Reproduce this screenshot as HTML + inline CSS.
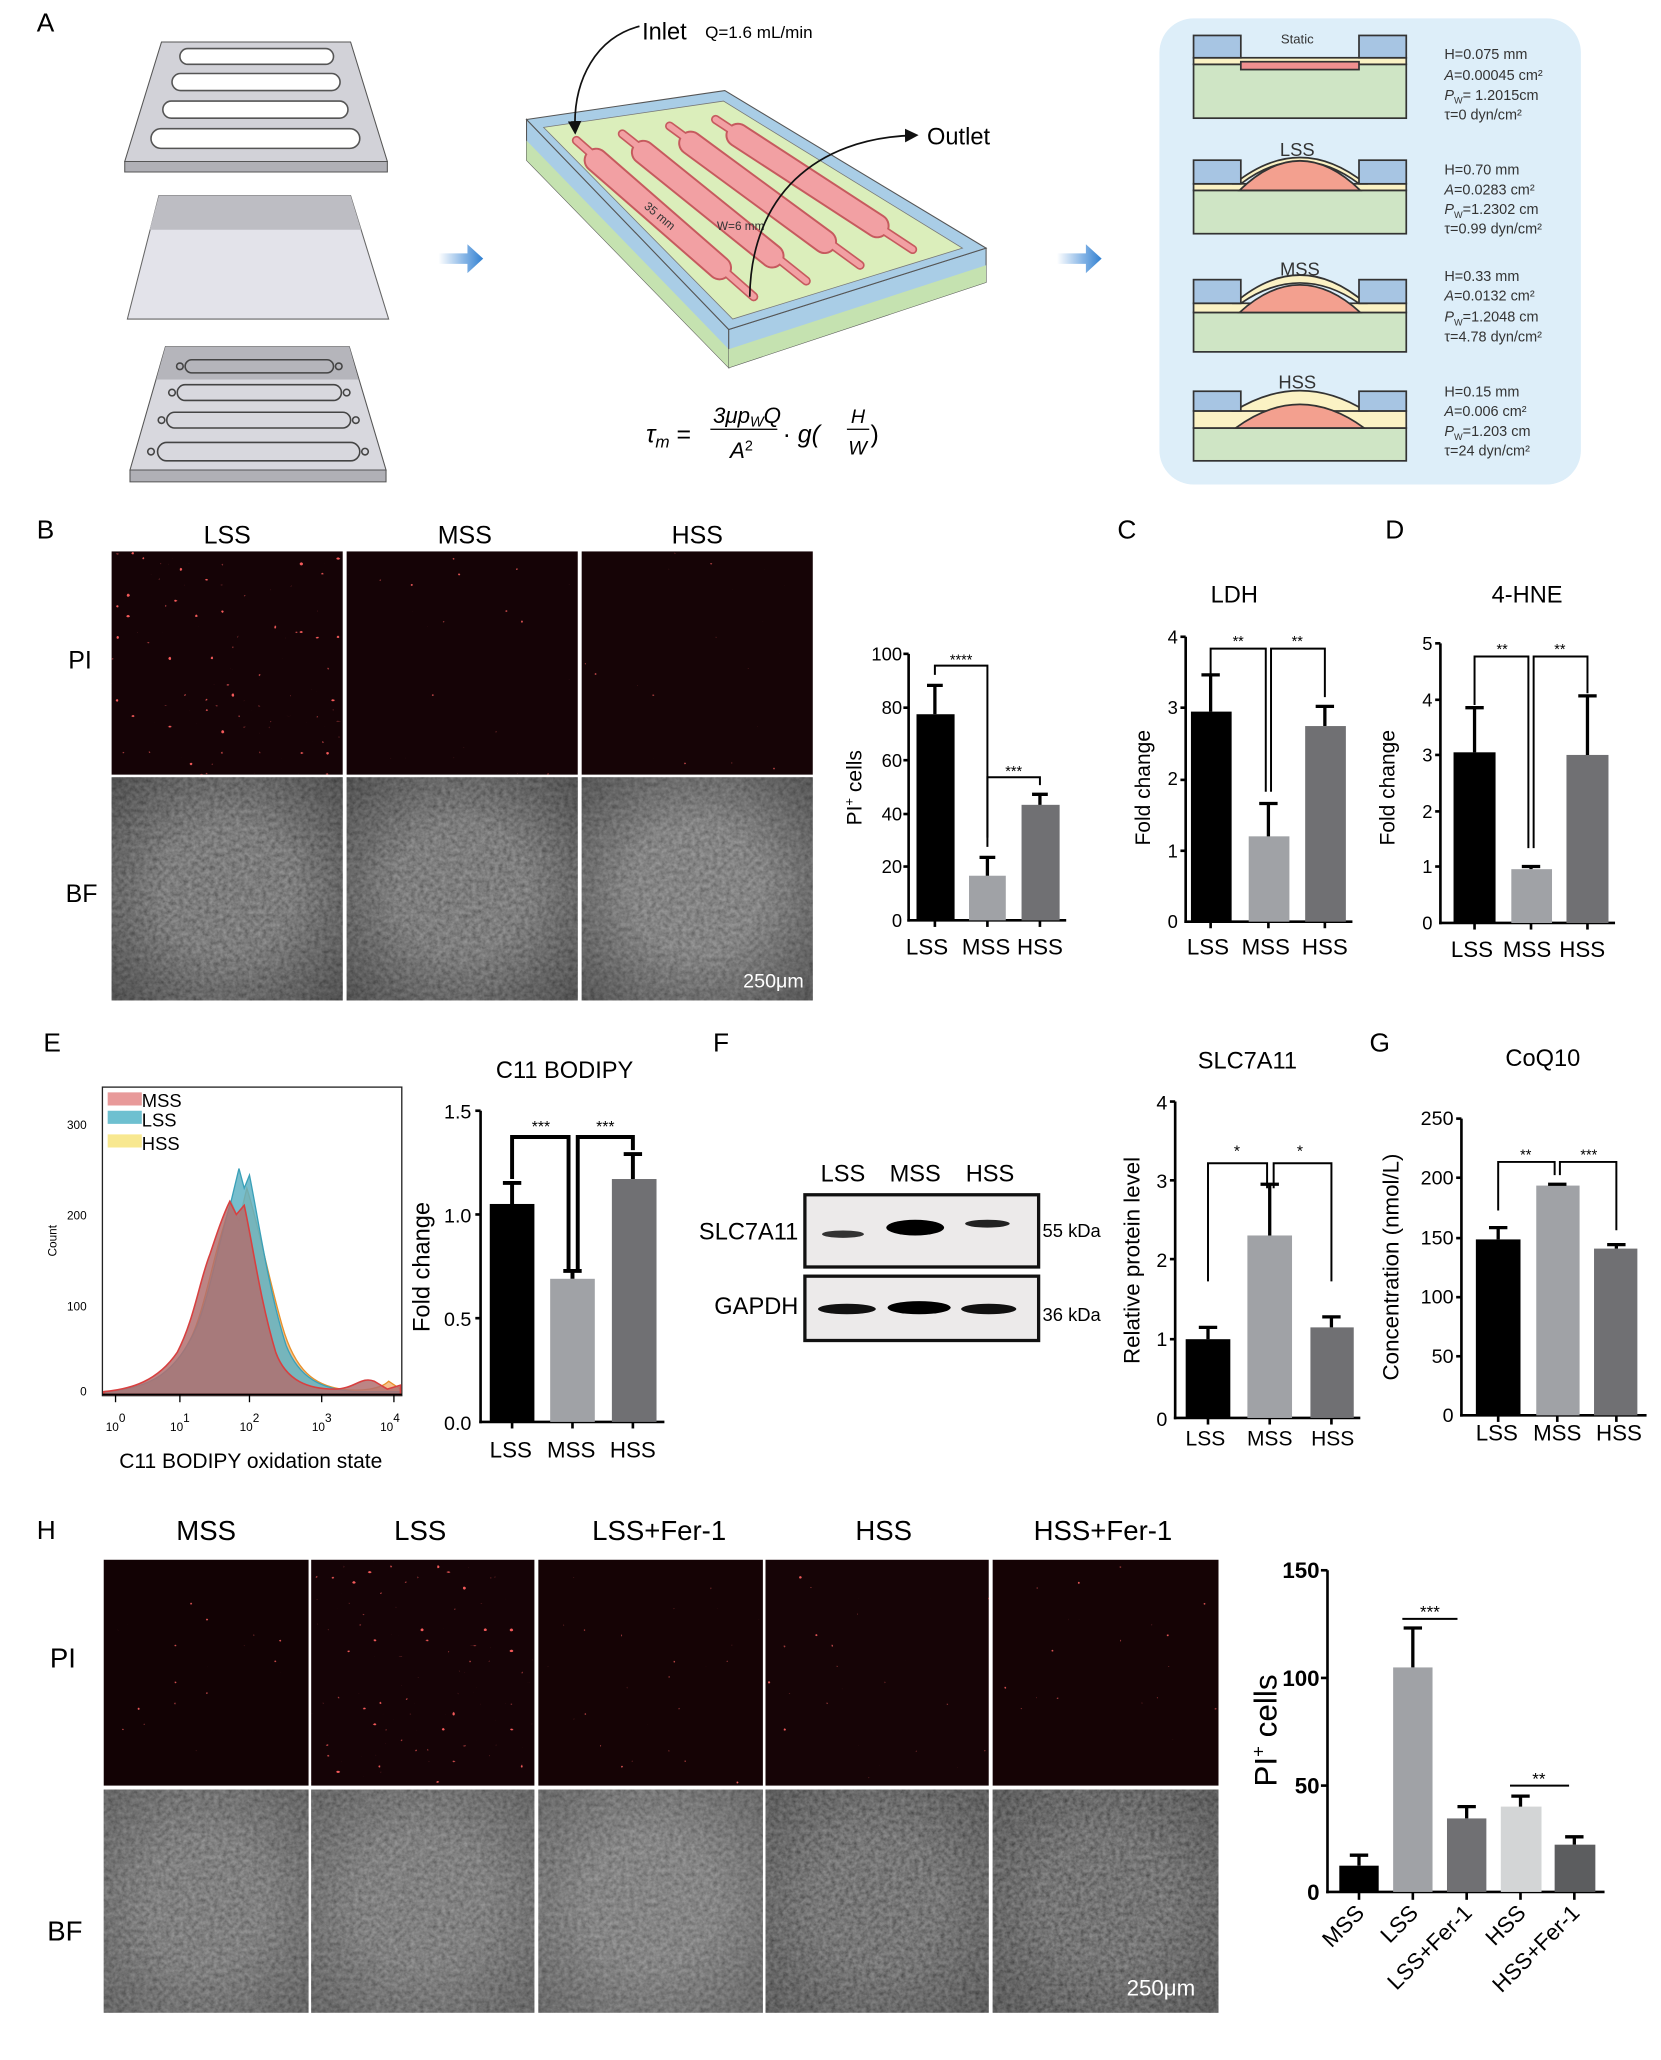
<!DOCTYPE html>
<html><head><meta charset="utf-8"><style>
html,body{margin:0;padding:0;background:#fff;}
svg{display:block;}
text{font-family:"Liberation Sans",Arial,sans-serif;}
</style></head><body>
<svg width="1661" height="2060" viewBox="0 0 1265 1569" preserveAspectRatio="none" xmlns="http://www.w3.org/2000/svg">
<defs>
<filter id="piS" x="0" y="0" width="1" height="1"><feTurbulence type="fractalNoise" baseFrequency="0.25" numOctaves="1" seed="3"/><feColorMatrix values="0 0 0 0 0.85  0 0 0 0 0.1  0 0 0 0 0.1  22 0 0 0 -17.4"/><feComposite in2="SourceGraphic" operator="in"/></filter>
<filter id="piM" x="0" y="0" width="1" height="1"><feTurbulence type="fractalNoise" baseFrequency="0.25" numOctaves="1" seed="7"/><feColorMatrix values="0 0 0 0 0.85  0 0 0 0 0.1  0 0 0 0 0.1  22 0 0 0 -16.9"/><feComposite in2="SourceGraphic" operator="in"/></filter>
<filter id="piD" x="0" y="0" width="1" height="1"><feTurbulence type="fractalNoise" baseFrequency="0.25" numOctaves="1" seed="11"/><feColorMatrix values="0 0 0 0 0.9  0 0 0 0 0.1  0 0 0 0 0.1  22 0 0 0 -16.4"/><feComposite in2="SourceGraphic" operator="in"/></filter>
<filter id="bf" x="0" y="0" width="1" height="1"><feTurbulence type="fractalNoise" baseFrequency="0.3" numOctaves="3" seed="5"/><feColorMatrix values="0.5 0 0 0 0  0.5 0 0 0 0  0.5 0 0 0 0  0 0 0 0 0.5"/><feComposite in2="SourceGraphic" operator="in" result="n"/><feMerge><feMergeNode in="SourceGraphic"/><feMergeNode in="n"/></feMerge></filter>
<radialGradient id="vig" cx="0.5" cy="0.5" r="0.7"><stop offset="0.4" stop-color="#000" stop-opacity="0"/><stop offset="1" stop-color="#000" stop-opacity="0.35"/></radialGradient>
<linearGradient id="arr" x1="0" x2="1"><stop offset="0" stop-color="#4a90d9" stop-opacity="0"/><stop offset="0.6" stop-color="#4a90d9" stop-opacity="0.7"/><stop offset="1" stop-color="#2f7fd0"/></linearGradient>
<marker id="ah" markerWidth="8" markerHeight="8" refX="6" refY="4" orient="auto"><path d="M0,0 L8,4 L0,8 Z" fill="#111"/></marker>
</defs>

<!-- Panel A -->
<text x="28" y="24" font-size="20">A</text>
<polygon points="95,123 295,123 295,131 95,131" fill="#b0b0b6" stroke="#555" stroke-width="0.8"/>
<polygon points="123,32 267,32 295,123 95,123" fill="#d2d2d8" stroke="#555" stroke-width="0.8"/>
<rect x="137" y="37" width="117" height="12" rx="6" fill="#fff" stroke="#555" stroke-width="1.2"/>
<rect x="131" y="56" width="128" height="13" rx="6.5" fill="#fff" stroke="#555" stroke-width="1.2"/>
<rect x="124" y="77" width="141" height="13" rx="6.5" fill="#fff" stroke="#555" stroke-width="1.2"/>
<rect x="115" y="98" width="159" height="15" rx="7.5" fill="#fff" stroke="#555" stroke-width="1.2"/>
<polygon points="121,149 267,149 296,243 97,243" fill="#e3e3ea" stroke="#666" stroke-width="0.8"/>
<polygon points="121,149 267,149 275,175 114,175" fill="#bdbdc3"/>
<polygon points="99,358 294,358 294,367 99,367" fill="#b0b0b6" stroke="#555" stroke-width="0.8"/>
<polygon points="126,264 266,264 294,358 99,358" fill="#d8d8de" stroke="#555" stroke-width="0.8"/>
<polygon points="126,264 266,264 273,289 119,289" fill="#b5b5bb"/>
<g fill="none" stroke="#444" stroke-width="1.2">
<rect x="141" y="274" width="113" height="10" rx="5"/><circle cx="137" cy="279" r="2.5"/><circle cx="258" cy="279" r="2.5"/>
<rect x="135" y="293" width="125" height="12" rx="6"/><circle cx="131" cy="299" r="2.5"/><circle cx="264" cy="299" r="2.5"/>
<rect x="127" y="314" width="140" height="12" rx="6"/><circle cx="123" cy="320" r="2.5"/><circle cx="271" cy="320" r="2.5"/>
<rect x="120" y="337" width="154" height="14" rx="7"/><circle cx="115" cy="344" r="2.5"/><circle cx="278" cy="344" r="2.5"/>
</g>
<polygon points="334,193 356,193 356,186 368,197 356,208 356,201 334,201" fill="url(#arr)"/>
<polygon points="805,193 827,193 827,186 839,197 827,208 827,201 805,201" fill="url(#arr)"/>
<!-- chip -->
<polygon points="401,91 555,251 555,280 401,122" fill="#a9cde6" stroke="#555" stroke-width="0.8"/>
<polygon points="401,107 555,266 555,280 401,122" fill="#c5e2b0"/>
<polygon points="555,251 751,189 751,215 555,280" fill="#a9cde6" stroke="#555" stroke-width="0.8"/>
<polygon points="555,266 751,202 751,215 555,280" fill="#c5e2b0"/>
<polygon points="401,91 552,69 751,189 555,251" fill="#a9cde6" stroke="#555" stroke-width="0.8"/>
<polygon points="414,97 551,77 733,189 558,243" fill="#dbeebb" stroke="#777" stroke-width="0.6"/>
<g stroke-linecap="round">
<g stroke="#c65a5e"><line x1="439" y1="107" x2="574" y2="226" stroke-width="7"/><line x1="474" y1="102" x2="614" y2="214" stroke-width="7"/><line x1="510" y1="96" x2="655" y2="202" stroke-width="7"/><line x1="545" y1="91" x2="695" y2="190" stroke-width="7"/></g>
<g stroke="#c65a5e" stroke-width="19"><line x1="454" y1="122" x2="548" y2="204"/><line x1="490" y1="116" x2="588" y2="195"/><line x1="526" y1="109" x2="628" y2="184"/><line x1="562" y1="103" x2="668" y2="172"/></g>
<g stroke="#f2a0a3" stroke-width="16"><line x1="454" y1="122" x2="548" y2="204"/><line x1="490" y1="116" x2="588" y2="195"/><line x1="526" y1="109" x2="628" y2="184"/><line x1="562" y1="103" x2="668" y2="172"/></g>
<g stroke="#f2a0a3" stroke-width="4.5"><line x1="439" y1="107" x2="574" y2="226"/><line x1="474" y1="102" x2="614" y2="214"/><line x1="510" y1="96" x2="655" y2="202"/><line x1="545" y1="91" x2="695" y2="190"/></g>
</g>
<text x="490" y="158" font-size="9" fill="#333" transform="rotate(40 490 158)">35 mm</text>
<text x="546" y="175" font-size="9" fill="#333">W=6 mm</text>
<path d="M487,20 C455,28 436,60 438,100" fill="none" stroke="#111" stroke-width="1.3" marker-end="url(#ah)"/>
<text x="489" y="30" font-size="18">Inlet</text>
<text x="537" y="29" font-size="13">Q=1.6 mL/min</text>
<path d="M571,226 C572,150 620,105 697,103" fill="none" stroke="#111" stroke-width="1.3" marker-end="url(#ah)"/>
<text x="706" y="110" font-size="18">Outlet</text>
<g font-family="Liberation Serif,serif" font-style="italic">
<text x="492" y="337" font-size="19">τ<tspan font-size="13" dy="4">m</tspan><tspan dy="-4" font-style="normal"> =</tspan></text>
<text x="543" y="322" font-size="17">3μp<tspan font-size="11" dy="3">W</tspan><tspan dy="-3">Q</tspan></text>
<line x1="541" y1="327" x2="592" y2="327" stroke="#111" stroke-width="1"/>
<text x="556" y="349" font-size="17">A<tspan font-size="11" dy="-6" font-style="normal">2</tspan></text>
<text x="596" y="337" font-size="19"><tspan font-style="normal">·</tspan> g(</text>
<text x="648" y="322" font-size="15">H</text>
<line x1="645" y1="327" x2="662" y2="327" stroke="#111" stroke-width="1"/>
<text x="646" y="346" font-size="15">W</text>
<text x="663" y="337" font-size="19" font-style="normal">)</text>
</g>
<!-- cross section panel -->
<rect x="883" y="14" width="321" height="355" rx="26" fill="#ddeef9"/>
<g stroke="#333" stroke-width="1.3">
<rect x="909" y="49" width="162" height="41" fill="#cfe5c5"/>
<rect x="909" y="44" width="162" height="5" fill="#fbf2c4"/>
<rect x="945" y="47" width="90" height="6" fill="#f09090"/>
<rect x="909" y="27" width="36" height="17" fill="#a7c5e3"/>
<rect x="1035" y="27" width="36" height="17" fill="#a7c5e3"/>
<rect x="909" y="145" width="162" height="33" fill="#cfe5c5"/>
<rect x="909" y="140" width="162" height="5" fill="#fbf2c4"/>
<path d="M940,140 Q990,100 1040,140 L1035,140 Q990,106 945,140 Z" fill="#fbf2c4"/>
<path d="M944,145 Q990,100 1036,145 Z" fill="#f3a08f"/>
<rect x="909" y="122" width="36" height="18" fill="#a7c5e3"/>
<rect x="1035" y="122" width="36" height="18" fill="#a7c5e3"/>
<rect x="909" y="238" width="162" height="30" fill="#cfe5c5"/>
<rect x="909" y="231" width="162" height="7" fill="#fbf2c4"/>
<path d="M940,231 Q990,188 1040,231 L1035,231 Q990,200 945,231 Z" fill="#fbf2c4"/>
<path d="M944,238 Q990,196 1036,238 Z" fill="#f3a08f"/>
<rect x="909" y="213" width="36" height="18" fill="#a7c5e3"/>
<rect x="1035" y="213" width="36" height="18" fill="#a7c5e3"/>
<rect x="909" y="326" width="162" height="25" fill="#cfe5c5"/>
<rect x="909" y="313" width="162" height="13" fill="#fbf2c4"/>
<path d="M940,313 Q990,282 1040,313 Z" fill="#fbf2c4"/>
<path d="M941,326 Q990,290 1039,326 Z" fill="#f3a08f"/>
<rect x="909" y="298" width="36" height="15" fill="#a7c5e3"/>
<rect x="1035" y="298" width="36" height="15" fill="#a7c5e3"/>
</g>
<g font-size="10" text-anchor="middle" fill="#333"><text x="988" y="33">Static</text></g>
<g font-size="14" text-anchor="middle" fill="#333"><text x="988" y="119">LSS</text><text x="990" y="210">MSS</text><text x="988" y="296">HSS</text></g>
<g font-size="11" fill="#333">
<text x="1100" y="45">H=0.075 mm</text><text x="1100" y="61"><tspan font-style="italic">A</tspan>=0.00045 cm²</text><text x="1100" y="76"><tspan font-style="italic">P</tspan><tspan font-size="7" dy="3">W</tspan><tspan dy="-3">= 1.2015cm</tspan></text><text x="1100" y="91">τ=0 dyn/cm²</text>
<text x="1100" y="133">H=0.70 mm</text><text x="1100" y="148"><tspan font-style="italic">A</tspan>=0.0283 cm²</text><text x="1100" y="163"><tspan font-style="italic">P</tspan><tspan font-size="7" dy="3">W</tspan><tspan dy="-3">=1.2302 cm</tspan></text><text x="1100" y="178">τ=0.99 dyn/cm²</text>
<text x="1100" y="214">H=0.33 mm</text><text x="1100" y="229"><tspan font-style="italic">A</tspan>=0.0132 cm²</text><text x="1100" y="245"><tspan font-style="italic">P</tspan><tspan font-size="7" dy="3">W</tspan><tspan dy="-3">=1.2048 cm</tspan></text><text x="1100" y="260">τ=4.78 dyn/cm²</text>
<text x="1100" y="302">H=0.15 mm</text><text x="1100" y="317"><tspan font-style="italic">A</tspan>=0.006 cm²</text><text x="1100" y="332"><tspan font-style="italic">P</tspan><tspan font-size="7" dy="3">W</tspan><tspan dy="-3">=1.203 cm</tspan></text><text x="1100" y="347">τ=24 dyn/cm²</text>
</g>

<!-- Panel B images -->
<text x="28" y="410" font-size="20">B</text>
<g font-size="19" text-anchor="middle"><text x="173" y="414">LSS</text><text x="354" y="414">MSS</text><text x="531" y="414">HSS</text></g>
<text x="52" y="509" font-size="19">PI</text><text x="50" y="687" font-size="19">BF</text>
<g>
<rect x="85" y="420" width="176" height="170" fill="#150306"/><rect x="85" y="420" width="176" height="170" filter="url(#piD)"/>
<rect x="264" y="420" width="176" height="170" fill="#150306"/><rect x="264" y="420" width="176" height="170" filter="url(#piS)"/>
<rect x="443" y="420" width="176" height="170" fill="#160406"/><rect x="443" y="420" width="176" height="170" filter="url(#piS)"/>
<rect x="85" y="592" width="176" height="170" fill="#6e6e6e" filter="url(#bf)"/><rect x="85" y="592" width="176" height="170" fill="url(#vig)"/>
<rect x="264" y="592" width="176" height="170" fill="#727272" filter="url(#bf)"/><rect x="264" y="592" width="176" height="170" fill="url(#vig)"/>
<rect x="443" y="592" width="176" height="170" fill="#808080" filter="url(#bf)"/><rect x="443" y="592" width="176" height="170" fill="url(#vig)"/>
</g>
<text x="566" y="752" font-size="15" fill="#fff">250μm</text>

<!-- Chart B -->
<g font-size="14" text-anchor="end"><text x="687" y="503">100</text><text x="687" y="544">80</text><text x="687" y="584">60</text><text x="687" y="625">40</text><text x="687" y="665">20</text><text x="687" y="706">0</text></g>
<g stroke="#000" stroke-width="2"><line x1="692" y1="498" x2="692" y2="702"/><line x1="691" y1="701" x2="812" y2="701"/>
<line x1="688" y1="498" x2="692" y2="498"/><line x1="688" y1="539" x2="692" y2="539"/><line x1="688" y1="579" x2="692" y2="579"/><line x1="688" y1="620" x2="692" y2="620"/><line x1="688" y1="660" x2="692" y2="660"/>
<line x1="712" y1="701" x2="712" y2="706"/><line x1="752" y1="701" x2="752" y2="706"/><line x1="792" y1="701" x2="792" y2="706"/></g>
<rect x="698" y="544" width="29" height="157" fill="#000"/><rect x="738" y="667" width="28" height="34" fill="#a0a2a6"/><rect x="778" y="613" width="29" height="88" fill="#707073"/>
<g stroke="#000" stroke-width="2.5" fill="none"><path d="M712,544 V522 M706,522 H718"/><path d="M752,667 V653 M746,653 H758"/><path d="M792,613 V605 M786,605 H798"/></g>
<g stroke="#000" stroke-width="1.5" fill="none"><path d="M712,514 V507 H752 V638"/><path d="M752,645 V592 H792 V598"/></g>
<g font-size="11" text-anchor="middle"><text x="732" y="506">****</text><text x="772" y="591">***</text></g>
<text transform="translate(656 600) rotate(-90)" font-size="16" text-anchor="middle">PI<tspan font-size="10" dy="-6">+</tspan><tspan dy="6"> cells</tspan></text>
<g font-size="17" text-anchor="middle"><text x="706" y="727">LSS</text><text x="751" y="727">MSS</text><text x="792" y="727">HSS</text></g>

<!-- Chart C -->
<text x="851" y="410" font-size="20">C</text>
<text x="940" y="459" font-size="18" text-anchor="middle">LDH</text>
<g font-size="14" text-anchor="end"><text x="897" y="490">4</text><text x="897" y="544">3</text><text x="897" y="598">2</text><text x="897" y="653">1</text><text x="897" y="707">0</text></g>
<g stroke="#000" stroke-width="2"><line x1="903" y1="485" x2="903" y2="703"/><line x1="902" y1="702" x2="1030" y2="702"/>
<line x1="899" y1="485" x2="903" y2="485"/><line x1="899" y1="539" x2="903" y2="539"/><line x1="899" y1="594" x2="903" y2="594"/><line x1="899" y1="648" x2="903" y2="648"/>
<line x1="922" y1="702" x2="922" y2="707"/><line x1="966" y1="702" x2="966" y2="707"/><line x1="1009" y1="702" x2="1009" y2="707"/></g>
<rect x="907" y="542" width="31" height="160" fill="#000"/><rect x="951" y="637" width="31" height="65" fill="#a0a2a6"/><rect x="994" y="553" width="31" height="149" fill="#707073"/>
<g stroke="#000" stroke-width="2.5" fill="none"><path d="M922,542 V514 M915,514 H929"/><path d="M966,637 V612 M959,612 H973"/><path d="M1009,553 V538 M1002,538 H1016"/></g>
<g stroke="#000" stroke-width="1.5" fill="none"><path d="M922,513 V494 H964 V603"/><path d="M968,603 V494 H1009 V531"/></g>
<g font-size="11" text-anchor="middle"><text x="943" y="492">**</text><text x="988" y="492">**</text></g>
<text transform="translate(876 600) rotate(-90)" font-size="16" text-anchor="middle">Fold change</text>
<g font-size="17" text-anchor="middle"><text x="920" y="727">LSS</text><text x="964" y="727">MSS</text><text x="1009" y="727">HSS</text></g>

<!-- Chart D -->
<text x="1055" y="410" font-size="20">D</text>
<text x="1163" y="459" font-size="18" text-anchor="middle">4-HNE</text>
<g font-size="14" text-anchor="end"><text x="1091" y="495">5</text><text x="1091" y="538">4</text><text x="1091" y="580">3</text><text x="1091" y="623">2</text><text x="1091" y="665">1</text><text x="1091" y="708">0</text></g>
<g stroke="#000" stroke-width="2"><line x1="1097" y1="490" x2="1097" y2="704"/><line x1="1096" y1="703" x2="1230" y2="703"/>
<line x1="1093" y1="490" x2="1097" y2="490"/><line x1="1093" y1="533" x2="1097" y2="533"/><line x1="1093" y1="575" x2="1097" y2="575"/><line x1="1093" y1="618" x2="1097" y2="618"/><line x1="1093" y1="660" x2="1097" y2="660"/>
<line x1="1123" y1="703" x2="1123" y2="708"/><line x1="1166" y1="703" x2="1166" y2="708"/><line x1="1209" y1="703" x2="1209" y2="708"/></g>
<rect x="1107" y="573" width="32" height="130" fill="#000"/><rect x="1151" y="662" width="31" height="41" fill="#a0a2a6"/><rect x="1193" y="575" width="32" height="128" fill="#707073"/>
<g stroke="#000" stroke-width="2.5" fill="none"><path d="M1123,573 V539 M1116,539 H1130"/><path d="M1166,662 V660 M1159,660 H1173"/><path d="M1209,575 V530 M1202,530 H1216"/></g>
<g stroke="#000" stroke-width="1.5" fill="none"><path d="M1123,537 V500 H1164 V646"/><path d="M1168,646 V500 H1209 V528"/></g>
<g font-size="11" text-anchor="middle"><text x="1144" y="498">**</text><text x="1188" y="498">**</text></g>
<text transform="translate(1062 600) rotate(-90)" font-size="16" text-anchor="middle">Fold change</text>
<g font-size="17" text-anchor="middle"><text x="1121" y="729">LSS</text><text x="1163" y="729">MSS</text><text x="1205" y="729">HSS</text></g>

<!-- Panel E -->
<text x="33" y="801" font-size="20">E</text>
<rect x="78" y="828" width="228" height="235" fill="#fff" stroke="#222" stroke-width="1"/>
<path d="M79,1060 C110,1058 130,1050 145,1020 C155,1000 162,960 170,935 L176,915 L182,930 L188,905 C196,930 205,975 215,1010 C225,1045 240,1055 260,1058 C275,1060 290,1058 296,1052 L305,1058 L305,1062 L79,1062 Z" fill="#f2b070" fill-opacity="0.8" stroke="#e8902a" stroke-width="1"/>
<path d="M79,1060 C115,1058 135,1045 150,1010 C160,985 168,940 176,915 L182,890 L186,905 L190,895 C197,930 205,985 218,1025 C228,1050 245,1058 270,1060 L305,1060 L305,1062 L79,1062 Z" fill="#5fb3c4" fill-opacity="0.85" stroke="#3aa0b8" stroke-width="1"/>
<path d="M79,1060 C100,1058 120,1052 135,1030 C148,1005 152,975 160,955 C165,940 170,925 175,915 L180,925 L186,918 C192,945 198,990 210,1030 C218,1052 235,1058 255,1058 C270,1058 275,1048 285,1052 L295,1058 L305,1055 L305,1062 L79,1062 Z" fill="#b07070" fill-opacity="0.85" stroke="#d84040" stroke-width="1.2"/>
<rect x="82" y="832" width="26" height="10" fill="#e89a9a"/><rect x="82" y="846" width="26" height="10" fill="#6ec0d0"/><rect x="82" y="864" width="26" height="10" fill="#f8e890"/>
<g font-size="14"><text x="108" y="843">MSS</text><text x="108" y="858">LSS</text><text x="108" y="876">HSS</text></g>
<g font-size="9" text-anchor="end"><text x="66" y="1063">0</text><text x="66" y="998">100</text><text x="66" y="929">200</text><text x="66" y="860">300</text></g>
<text transform="translate(43 945) rotate(-90)" font-size="9" text-anchor="middle">Count</text>
<g stroke="#000" stroke-width="1"><line x1="78" y1="1062" x2="306" y2="1062"/><line x1="88" y1="1062" x2="88" y2="1068"/><line x1="137" y1="1062" x2="137" y2="1068"/><line x1="190" y1="1062" x2="190" y2="1068"/><line x1="245" y1="1062" x2="245" y2="1068"/><line x1="300" y1="1062" x2="300" y2="1068"/></g>
<g font-size="9" text-anchor="middle"><text x="88" y="1090">10<tspan dy="-7">0</tspan></text><text x="137" y="1090">10<tspan dy="-7">1</tspan></text><text x="190" y="1090">10<tspan dy="-7">2</tspan></text><text x="245" y="1090">10<tspan dy="-7">3</tspan></text><text x="297" y="1090">10<tspan dy="-7">4</tspan></text></g>
<text x="191" y="1118" font-size="16" text-anchor="middle">C11 BODIPY oxidation state</text>

<!-- Chart E bar -->
<text x="430" y="821" font-size="18" text-anchor="middle">C11 BODIPY</text>
<g font-size="15" text-anchor="end"><text x="359" y="852">1.5</text><text x="359" y="931">1.0</text><text x="359" y="1010">0.5</text><text x="359" y="1089">0.0</text></g>
<g stroke="#000" stroke-width="2"><line x1="366" y1="846" x2="366" y2="1084"/><line x1="365" y1="1083" x2="506" y2="1083"/>
<line x1="362" y1="846" x2="366" y2="846"/><line x1="362" y1="925" x2="366" y2="925"/><line x1="362" y1="1004" x2="366" y2="1004"/>
<line x1="390" y1="1083" x2="390" y2="1088"/><line x1="436" y1="1083" x2="436" y2="1088"/><line x1="482" y1="1083" x2="482" y2="1088"/></g>
<rect x="373" y="917" width="34" height="166" fill="#000"/><rect x="419" y="974" width="34" height="109" fill="#a0a2a6"/><rect x="466" y="898" width="34" height="185" fill="#707073"/>
<g stroke="#000" stroke-width="3" fill="none"><path d="M390,917 V901 M383,901 H397"/><path d="M436,974 V968 M429,968 H443"/><path d="M482,898 V879 M475,879 H489"/></g>
<g stroke="#000" stroke-width="3" fill="none"><path d="M390,898 V866 H433 V968"/><path d="M440,968 V866 H482 V876"/></g>
<g font-size="12" text-anchor="middle"><text x="412" y="862">***</text><text x="461" y="862">***</text></g>
<text transform="translate(327 965) rotate(-90)" font-size="18" text-anchor="middle">Fold change</text>
<g font-size="17" text-anchor="middle"><text x="389" y="1110">LSS</text><text x="435" y="1110">MSS</text><text x="482" y="1110">HSS</text></g>

<!-- Panel F blot -->
<text x="543" y="801" font-size="20">F</text>
<g font-size="18" text-anchor="middle"><text x="642" y="900">LSS</text><text x="697" y="900">MSS</text><text x="754" y="900">HSS</text></g>
<rect x="613" y="910" width="178" height="55" fill="#eceaea" stroke="#111" stroke-width="2.5"/>
<rect x="613" y="972" width="178" height="49" fill="#eceaea" stroke="#111" stroke-width="2.5"/>
<ellipse cx="642" cy="940" rx="16" ry="2.8" fill="#333"/>
<ellipse cx="697" cy="935" rx="22" ry="6" fill="#000"/>
<ellipse cx="752" cy="932" rx="17" ry="3" fill="#222"/>
<ellipse cx="645" cy="997" rx="22" ry="4" fill="#111"/>
<ellipse cx="700" cy="996" rx="24" ry="5" fill="#000"/>
<ellipse cx="753" cy="997" rx="21" ry="4" fill="#111"/>
<g font-size="18" text-anchor="end"><text x="608" y="944">SLC7A11</text><text x="608" y="1001">GAPDH</text></g>
<g font-size="14"><text x="794" y="942">55 kDa</text><text x="794" y="1006">36 kDa</text></g>

<!-- Chart F -->
<text x="950" y="814" font-size="18" text-anchor="middle">SLC7A11</text>
<g font-size="15" text-anchor="end"><text x="889" y="845">4</text><text x="889" y="905">3</text><text x="889" y="965">2</text><text x="889" y="1025">1</text><text x="889" y="1086">0</text></g>
<g stroke="#000" stroke-width="2"><line x1="895" y1="839" x2="895" y2="1081"/><line x1="894" y1="1080" x2="1036" y2="1080"/>
<line x1="891" y1="839" x2="895" y2="839"/><line x1="891" y1="899" x2="895" y2="899"/><line x1="891" y1="959" x2="895" y2="959"/><line x1="891" y1="1020" x2="895" y2="1020"/>
<line x1="920" y1="1080" x2="920" y2="1085"/><line x1="967" y1="1080" x2="967" y2="1085"/><line x1="1014" y1="1080" x2="1014" y2="1085"/></g>
<rect x="903" y="1020" width="34" height="60" fill="#000"/><rect x="950" y="941" width="34" height="139" fill="#a0a2a6"/><rect x="998" y="1011" width="33" height="69" fill="#707073"/>
<g stroke="#000" stroke-width="2.5" fill="none"><path d="M920,1020 V1011 M913,1011 H927"/><path d="M967,941 V902 M960,902 H974"/><path d="M1014,1011 V1003 M1007,1003 H1021"/></g>
<g stroke="#000" stroke-width="1.5" fill="none"><path d="M920,976 V886 H965 V905"/><path d="M970,905 V886 H1014 V976"/></g>
<g font-size="12" text-anchor="middle"><text x="942" y="881">*</text><text x="990" y="881">*</text></g>
<text transform="translate(868 960) rotate(-90)" font-size="17" text-anchor="middle">Relative protein level</text>
<g font-size="16" text-anchor="middle"><text x="918" y="1101">LSS</text><text x="967" y="1101">MSS</text><text x="1015" y="1101">HSS</text></g>

<!-- Chart G -->
<text x="1043" y="801" font-size="20">G</text>
<text x="1175" y="812" font-size="18" text-anchor="middle">CoQ10</text>
<g font-size="15" text-anchor="end"><text x="1107" y="857">250</text><text x="1107" y="902">200</text><text x="1107" y="948">150</text><text x="1107" y="993">100</text><text x="1107" y="1038">50</text><text x="1107" y="1083">0</text></g>
<g stroke="#000" stroke-width="2"><line x1="1113" y1="852" x2="1113" y2="1079"/><line x1="1112" y1="1078" x2="1254" y2="1078"/>
<line x1="1109" y1="852" x2="1113" y2="852"/><line x1="1109" y1="897" x2="1113" y2="897"/><line x1="1109" y1="943" x2="1113" y2="943"/><line x1="1109" y1="988" x2="1113" y2="988"/><line x1="1109" y1="1033" x2="1113" y2="1033"/>
<line x1="1141" y1="1078" x2="1141" y2="1083"/><line x1="1186" y1="1078" x2="1186" y2="1083"/><line x1="1231" y1="1078" x2="1231" y2="1083"/></g>
<rect x="1124" y="944" width="34" height="134" fill="#000"/><rect x="1170" y="903" width="33" height="175" fill="#a0a2a6"/><rect x="1214" y="951" width="33" height="127" fill="#707073"/>
<g stroke="#000" stroke-width="2.5" fill="none"><path d="M1141,944 V935 M1134,935 H1148"/><path d="M1186,903 V902 M1179,902 H1193"/><path d="M1231,951 V948 M1224,948 H1238"/></g>
<g stroke="#000" stroke-width="1.5" fill="none"><path d="M1141,922 V885 H1184 V895"/><path d="M1188,895 V885 H1231 V937"/></g>
<g font-size="11" text-anchor="middle"><text x="1162" y="883">**</text><text x="1210" y="883">***</text></g>
<text transform="translate(1065 965) rotate(-90)" font-size="17" text-anchor="middle">Concentration (nmol/L)</text>
<g font-size="17" text-anchor="middle"><text x="1140" y="1097">LSS</text><text x="1186" y="1097">MSS</text><text x="1233" y="1097">HSS</text></g>

<!-- Panel H -->
<text x="28" y="1172" font-size="20">H</text>
<g font-size="21" text-anchor="middle"><text x="157" y="1173">MSS</text><text x="320" y="1173">LSS</text><text x="502" y="1173">LSS+Fer-1</text><text x="673" y="1173">HSS</text><text x="840" y="1173">HSS+Fer-1</text></g>
<text x="38" y="1270" font-size="21">PI</text><text x="36" y="1478" font-size="21">BF</text>
<g>
<rect x="79" y="1188" width="156" height="172" fill="#120204"/><rect x="79" y="1188" width="156" height="172" filter="url(#piS)"/>
<rect x="237" y="1188" width="170" height="172" fill="#150306"/><rect x="237" y="1188" width="170" height="172" filter="url(#piD)"/>
<rect x="410" y="1188" width="171" height="172" fill="#150305"/><rect x="410" y="1188" width="171" height="172" filter="url(#piS)"/>
<rect x="583" y="1188" width="170" height="172" fill="#160406"/><rect x="583" y="1188" width="170" height="172" filter="url(#piM)"/>
<rect x="756" y="1188" width="172" height="172" fill="#150305"/><rect x="756" y="1188" width="172" height="172" filter="url(#piS)"/>
<rect x="79" y="1363" width="156" height="170" fill="#767676" filter="url(#bf)"/><rect x="79" y="1363" width="156" height="170" fill="url(#vig)" opacity="0.6"/>
<rect x="237" y="1363" width="170" height="170" fill="#787878" filter="url(#bf)"/><rect x="237" y="1363" width="170" height="170" fill="url(#vig)" opacity="0.6"/>
<rect x="410" y="1363" width="171" height="170" fill="#828282" filter="url(#bf)"/><rect x="410" y="1363" width="171" height="170" fill="url(#vig)" opacity="0.6"/>
<rect x="583" y="1363" width="170" height="170" fill="#626262" filter="url(#bf)"/><rect x="583" y="1363" width="170" height="170" fill="url(#vig)" opacity="0.6"/>
<rect x="756" y="1363" width="172" height="170" fill="#5c5c5c" filter="url(#bf)"/><rect x="756" y="1363" width="172" height="170" fill="url(#vig)" opacity="0.6"/>
</g>
<text x="858" y="1520" font-size="17" fill="#fff">250μm</text>

<!-- Chart H -->
<g font-size="17" font-weight="bold" text-anchor="end"><text x="1005" y="1202">150</text><text x="1005" y="1284">100</text><text x="1005" y="1366">50</text><text x="1005" y="1447">0</text></g>
<g stroke="#000" stroke-width="2"><line x1="1011" y1="1196" x2="1011" y2="1442"/><line x1="1010" y1="1441" x2="1222" y2="1441"/>
<line x1="1006" y1="1196" x2="1011" y2="1196"/><line x1="1006" y1="1278" x2="1011" y2="1278"/><line x1="1006" y1="1360" x2="1011" y2="1360"/>
<line x1="1035" y1="1441" x2="1035" y2="1447"/><line x1="1076" y1="1441" x2="1076" y2="1447"/><line x1="1117" y1="1441" x2="1117" y2="1447"/><line x1="1158" y1="1441" x2="1158" y2="1447"/><line x1="1199" y1="1441" x2="1199" y2="1447"/></g>
<rect x="1020" y="1421" width="30" height="20" fill="#000"/><rect x="1061" y="1270" width="30" height="171" fill="#a0a2a6"/><rect x="1102" y="1385" width="30" height="56" fill="#707073"/><rect x="1143" y="1376" width="31" height="65" fill="#d3d5d6"/><rect x="1184" y="1405" width="31" height="36" fill="#5c5d5f"/>
<g stroke="#000" stroke-width="2.5" fill="none"><path d="M1035,1421 V1413 M1028,1413 H1042"/><path d="M1076,1270 V1240 M1069,1240 H1083"/><path d="M1117,1385 V1376 M1110,1376 H1124"/><path d="M1158,1376 V1368 M1151,1368 H1165"/><path d="M1199,1405 V1399 M1192,1399 H1206"/></g>
<g stroke="#000" stroke-width="1.5"><line x1="1068" y1="1233" x2="1110" y2="1233"/><line x1="1150" y1="1360" x2="1195" y2="1360"/></g>
<g font-size="13" text-anchor="middle"><text x="1089" y="1232">***</text><text x="1172" y="1359">**</text></g>
<text transform="translate(972 1318) rotate(-90)" font-size="24" text-anchor="middle">PI<tspan font-size="14" dy="-9">+</tspan><tspan dy="9"> cells</tspan></text>
<g font-size="17" text-anchor="end">
<text transform="translate(1040 1458) rotate(-45)">MSS</text>
<text transform="translate(1081 1458) rotate(-45)">LSS</text>
<text transform="translate(1122 1458) rotate(-45)">LSS+Fer-1</text>
<text transform="translate(1163 1458) rotate(-45)">HSS</text>
<text transform="translate(1204 1458) rotate(-45)">HSS+Fer-1</text>
</g>
</svg>
</body></html>
